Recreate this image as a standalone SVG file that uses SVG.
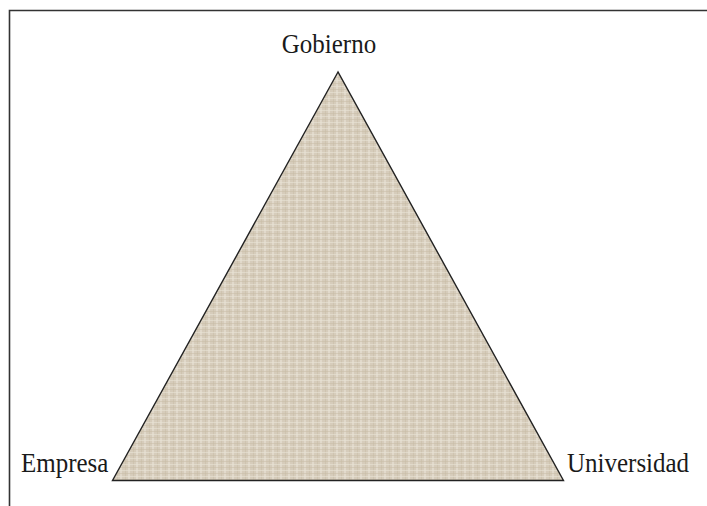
<svg xmlns="http://www.w3.org/2000/svg" width="707" height="506" viewBox="0 0 707 506">
  <style>
    .lbl { font-family: "Liberation Serif", "Times New Roman", serif; font-size: 25px; fill: #1a1a1a; }
  </style>
  <defs>
    <pattern id="burlap" width="8" height="6" patternUnits="userSpaceOnUse">
      <rect width="8" height="6" fill="#d6ccbb"/>
      <rect x="0" y="0" width="2" height="6" fill="#e6dfd2" opacity="0.7"/>
      <rect x="5" y="0" width="1" height="6" fill="#c9bea9" opacity="0.6"/>
      <rect x="0" y="2" width="8" height="1" fill="#e8e2d6" opacity="0.6"/>
      <rect x="0" y="5" width="8" height="1" fill="#c7bca6" opacity="0.5"/>
    </pattern>
  </defs>
  <rect width="707" height="506" fill="#ffffff"/>
  <path d="M9.5 506 V10.5 H707" fill="none" stroke="#333333" stroke-width="1.6"/>
  <g id="triangle">
    <polygon points="338,72 112.5,480.5 563.5,480.5" fill="url(#burlap)" stroke="#222222" stroke-width="1.4" stroke-linejoin="miter"/>
  </g>
  <g id="gobierno">
    <text class="lbl" x="329" y="53" text-anchor="middle" transform="translate(0,-5.3) scale(1,1.1)">Gobierno</text>
  </g>
  <g id="empresa">
    <text class="lbl" x="21" y="472" transform="translate(0,-47.2) scale(1,1.1)">Empresa</text>
  </g>
  <g id="universidad">
    <text class="lbl" x="567" y="472" transform="translate(0,-47.2) scale(1,1.1)">Universidad</text>
  </g>
</svg>
